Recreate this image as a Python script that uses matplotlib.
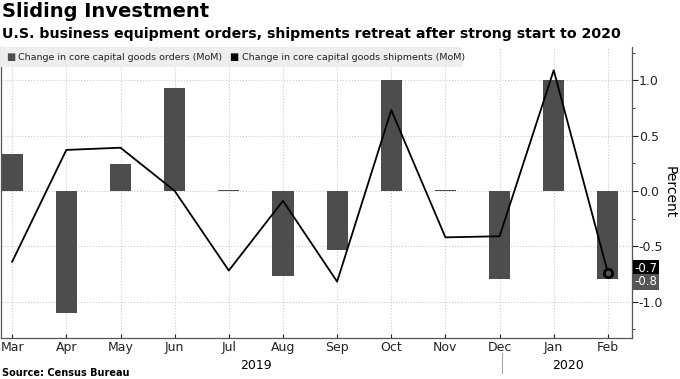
import numpy as np
import matplotlib.pyplot as plt
from matplotlib.ticker import MultipleLocator

# data (MoM % change)
months = ['Mar', 'Apr', 'May', 'Jun', 'Jul', 'Aug', 'Sep', 'Oct', 'Nov', 'Dec', 'Jan', 'Feb']
orders = [0.33, -1.10, 0.24, 0.93, 0.01, -0.77, -0.53, 1.00, 0.005, -0.80, 1.00, -0.80]
shipments = [-0.64, 0.37, 0.39, 0.00, -0.72, -0.09, -0.82, 0.73, -0.42, -0.41, 1.09, -0.74]
years = ['2019', '2020']

bar_color = '#4d4d4d'
x = np.arange(len(months))

fig = plt.figure(figsize=(6.8, 3.79), dpi=100)
ax = fig.add_axes([0.002, 0.108, 0.927, 0.768])

ax.bar(x, orders, width=0.39, color=bar_color, zorder=2)
ax.plot(x, shipments, color='black', lw=1.3, zorder=3)
ax.plot(x[-1], shipments[-1], 'o', ms=6, mfc='#555555', mec='black', mew=2, zorder=4)

ax.set_xlim(-0.2, 11.44)
ax.set_ylim(-1.33, 1.30)

# grid
ax.set_xticks(x)
ax.set_xticklabels(months, fontsize=9)
ax.yaxis.set_major_locator(MultipleLocator(0.5))
ax.yaxis.set_minor_locator(MultipleLocator(0.25))
ax.grid(True, color='#cccccc', ls=':', lw=0.8, zorder=0)

ax.yaxis.tick_right()
ax.yaxis.set_label_position('right')
ax.tick_params(axis='y', which='major', length=4, labelsize=9, colors='#222222', pad=1)
ax.tick_params(axis='y', which='minor', length=2, colors='#222222')
ax.tick_params(axis='x', length=3, direction='in', labelsize=9, pad=2, colors='#222222')
ax.set_yticks([-1.0, -0.5, 0.0, 0.5, 1.0])
ax.set_yticklabels(['-1.0', '-0.5', '0.0', '0.5', '1.0'])
ax.set_ylabel('Percent', rotation=270, labelpad=10, fontsize=10)

ax.spines['top'].set_visible(False)
for s in ['left', 'right', 'bottom']:
    ax.spines[s].set_color('#555555')
    ax.spines[s].set_linewidth(0.9)

# year labels and separator
ax.text(4.5, -0.072, years[0], transform=ax.get_xaxis_transform(), ha='center', va='top', fontsize=9)
ax.text(10.26, -0.072, years[1], transform=ax.get_xaxis_transform(), ha='center', va='top', fontsize=9)
ax.plot([9.05, 9.05], [-0.05, -0.12], transform=ax.get_xaxis_transform(), color='#aaaaaa', lw=0.8, clip_on=False)

# value tags on right
ax.text(1.005, shipments[-1] + 0.04, '-0.7', transform=ax.get_yaxis_transform(), ha='left', va='center',
        fontsize=8.5, color='white', bbox=dict(boxstyle='square,pad=0.12', fc='black', ec='none'))
ax.text(1.005, orders[-1] - 0.02, '-0.8', transform=ax.get_yaxis_transform(), ha='left', va='center',
        fontsize=8.5, color='white', bbox=dict(boxstyle='square,pad=0.12', fc='#555555', ec='none'))

# legend box
ax.add_patch(plt.Rectangle((0, 0.93), 0.731, 0.07, transform=ax.transAxes, fc='#eeeeee', ec='none', zorder=5))
ax.text(0.008, 0.965, '\u25a0', transform=ax.transAxes, va='center', fontsize=7, color=bar_color, zorder=6)
ax.text(0.027, 0.965, 'Change in core capital goods orders (MoM)', transform=ax.transAxes, va='center',
        fontsize=6.8, color='#222222', zorder=6)
ax.text(0.362, 0.965, '\u25a0', transform=ax.transAxes, va='center', fontsize=7, color='black', zorder=6)
ax.text(0.381, 0.965, 'Change in core capital goods shipments (MoM)', transform=ax.transAxes, va='center',
        fontsize=6.8, color='#222222', zorder=6)

# titles
fig.text(0.003, 0.995, 'Sliding Investment', fontsize=14, fontweight='bold', va='top')
fig.text(0.003, 0.93, 'U.S. business equipment orders, shipments retreat after strong start to 2020',
         fontsize=10.2, fontweight='bold', va='top')
fig.text(0.003, 0.003, 'Source: Census Bureau', fontsize=7, fontweight='bold', va='bottom')

fig.savefig('out.png', dpi=100)
